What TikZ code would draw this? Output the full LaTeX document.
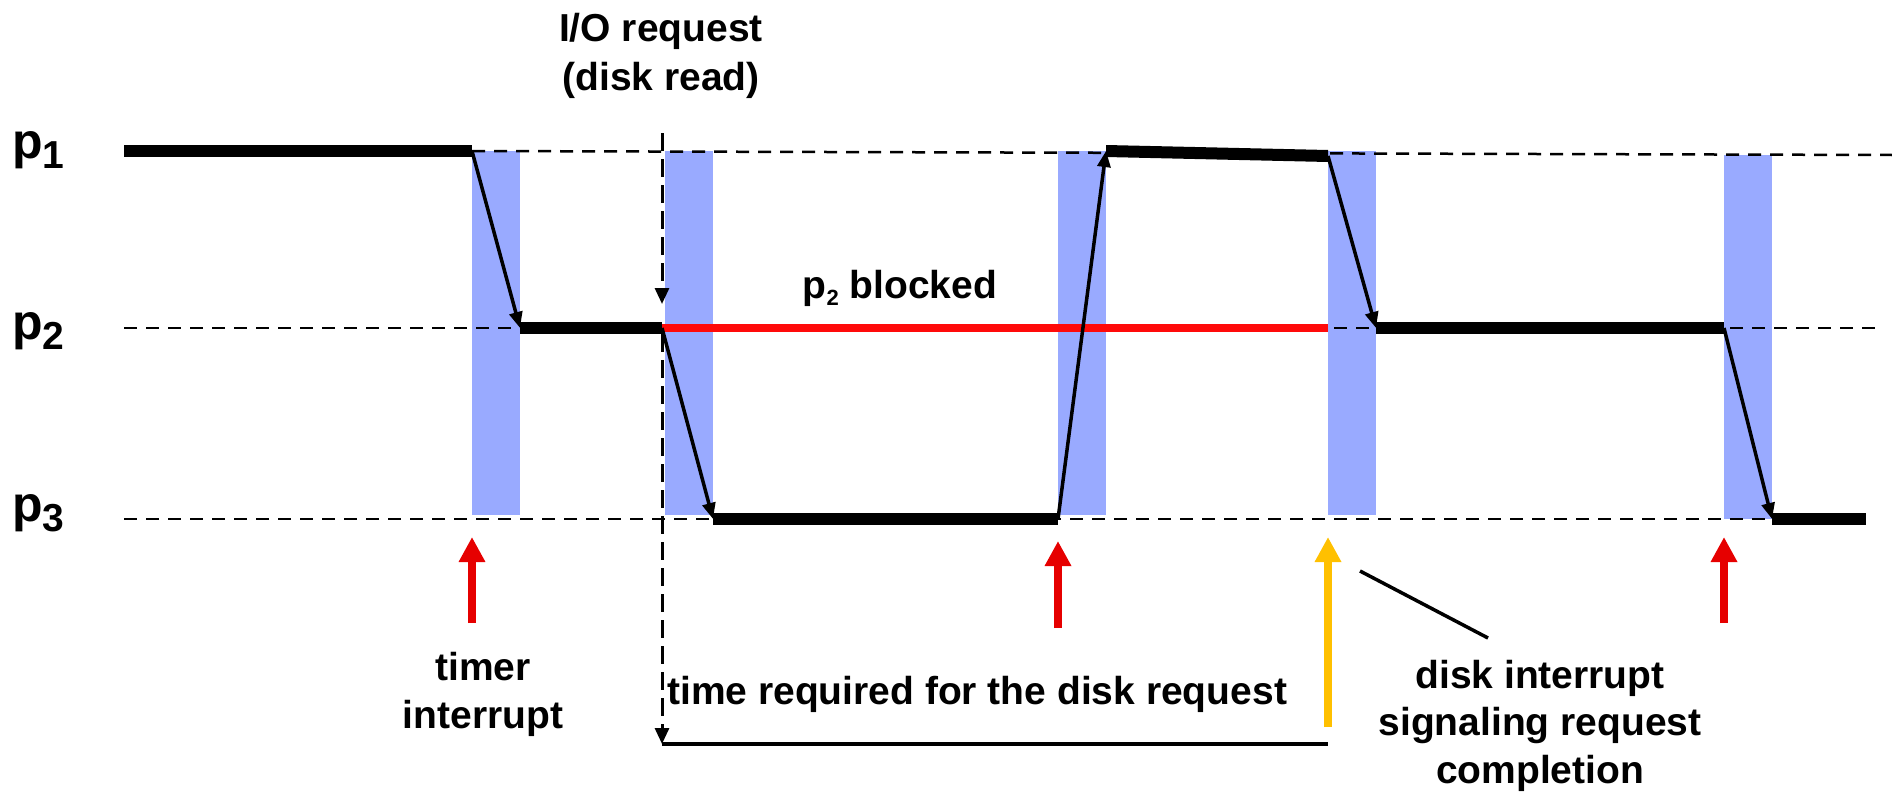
\documentclass[tikz,border=0pt]{standalone}
\usepackage{fontspec}
\setmainfont{Liberation Sans}
\usetikzlibrary{arrows.meta}

\definecolor{slotblue}{RGB}{153,170,255}
\definecolor{blockred}{RGB}{255,10,10}
\definecolor{irqred}{RGB}{230,0,0}
\definecolor{diskyellow}{RGB}{255,192,0}

% lowered subscript: size, drop below baseline, text
\newcommand\lowsub[3]{\raisebox{-#2}{\fontsize{#1}{#1}\selectfont #3}}

\begin{document}
\begin{tikzpicture}[x=1pt,y=-1pt,
  lbl/.style={font=\fontsize{39}{47}\selectfont\bfseries, inner sep=0pt, anchor=base},
  plbl/.style={font=\fontsize{50}{60}\selectfont\bfseries, inner sep=0pt, anchor=base west},
  guide/.style={line width=2.5pt, dash pattern=on 13pt off 9pt},
  vguide/.style={line width=3pt, dash pattern=on 18pt off 8pt},
  run/.style={line width=12pt},
  switch/.style={line width=3.5pt, -{Triangle[length=16pt,width=13pt]}},
  slot/.style={fill=slotblue, draw=none},
  irq/.style={line width=8.5pt, -{Triangle[length=25pt,width=25pt]}},
]
\useasboundingbox (0,0) rectangle (1892,792);

% process levels
\coordinate (L1) at (0,151);
\coordinate (L2) at (0,328);
\coordinate (L3) at (0,519);

% context-switch slots (kernel time)
\fill[slot] (472,151) rectangle (520,515);
\fill[slot] (665,151) rectangle (713,515);
\fill[slot] (1058,151) rectangle (1106,515);
\fill[slot] (1328,151) rectangle (1376,515);
\fill[slot] (1724,155) rectangle (1772,519);

% dashed level guides
\draw[guide] (472,151) -- (1892,155);
\draw[guide] (124,328) -- (1882,328);
\draw[guide] (124,519) -- (1772,519);

% process labels
\node[plbl] (p1) at (12,158) {p\lowsub{39}{10pt}{1}};
\node[plbl] (p2) at (12,339) {p\lowsub{39}{10pt}{2}};
\node[plbl] (p3) at (12,521) {p\lowsub{39}{10pt}{3}};

% execution points
\coordinate (a0) at (124,151);
\coordinate (a1) at (472,151);
\coordinate (b1) at (520,328);
\coordinate (b2) at (662,328);
\coordinate (c2) at (713,519);
\coordinate (c3) at (1058,519);
\coordinate (d3) at (1106,151);
\coordinate (d4) at (1328,156);
\coordinate (e4) at (1376,328);
\coordinate (e5) at (1724,328);
\coordinate (f5) at (1772,519);
\coordinate (f6) at (1866,519);

% p2 blocked interval
\draw[blockred, line width=8pt] (b2) -- (1328,328);

% running stretches
\draw[run] (a0) -- (a1);
\draw[run] (b1) -- (b2);
\draw[run] (c2) -- (c3);
\draw[run] (d3) -- (d4);
\draw[run] (e4) -- (e5);
\draw[run] (f5) -- (f6);

% switches between processes
\draw[switch] (a1) -- (b1);
\draw[switch] (b2) -- (c2);
\draw[switch] (c3) -- (d3);
\draw[switch] (d4) -- (e4);
\draw[switch] (e5) -- (f5);

% I/O request marker and disk time span
\coordinate (io0) at (662,133);
\coordinate (io1) at (662,304);
\coordinate (io2) at (662,334);
\coordinate (io3) at (662,744);
\coordinate (dz) at (1328,744);
\draw[vguide, -{Triangle[length=16pt,width=14pt]}] (io0) -- (io1);
\draw[vguide, -{Triangle[length=16pt,width=14pt]}] (io2) -- (io3);
\draw[line width=3.5pt] (io3) -- (dz);

% interrupts
\coordinate (t1a) at (472,623); \coordinate (t1b) at (472,537);
\coordinate (t2a) at (1058,628); \coordinate (t2b) at (1058,541);
\coordinate (t3a) at (1724,623); \coordinate (t3b) at (1724,537);
\coordinate (dka) at (1328,727); \coordinate (dkb) at (1328,537);
\draw[irq, irqred] (t1a) -- (t1b);
\draw[irq, irqred] (t2a) -- (t2b);
\draw[irq, irqred] (t3a) -- (t3b);
\draw[irq, diskyellow] (dka) -- (dkb);

% pointer to the disk interrupt note
\coordinate (pt0) at (1360,571);
\coordinate (pt1) at (1488,638);
\draw[line width=3.5pt] (pt0) -- (pt1);

% labels
\node[lbl] (ioA) at (661,42) {I/O request};
\node[lbl] (ioB) at (661,90) {(disk read)};
\node[lbl] (blk) at (900,298) {p\lowsub{22}{7pt}{2} blocked};
\node[lbl] (tmA) at (483,680) {timer};
\node[lbl] (tmB) at (483,728) {interrupt};
\node[lbl, anchor=base west] (span) at (667,704) {time required for the disk request};
\node[lbl] (dsA) at (1540,688) {disk interrupt};
\node[lbl] (dsB) at (1540,735) {signaling request};
\node[lbl] (dsC) at (1540,783) {completion};
\end{tikzpicture}
\end{document}
